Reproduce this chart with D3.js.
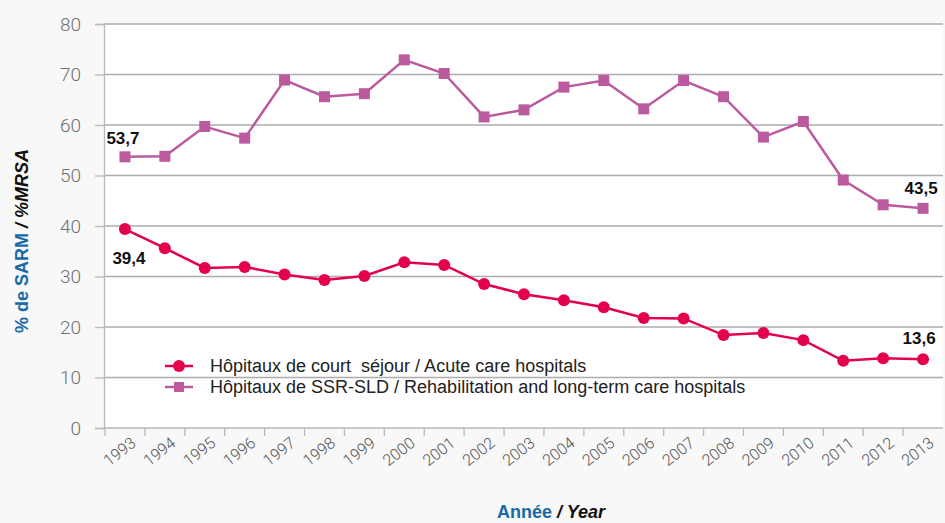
<!DOCTYPE html>
<html>
<head>
<meta charset="utf-8">
<script src="https://cdn.jsdelivr.net/npm/d3@7"></script>
<style>
  html, body { margin: 0; padding: 0; background: #f8f8f8; }
  svg { display: block; }
</style>
</head>
<body>
<div id="chart"></div>
<script>
// Années
const years = ['1993', '1994', '1995', '1996', '1997', '1998', '1999', '2000', '2001', '2002', '2003',
  '2004', '2005', '2006', '2007', '2008', '2009', '2010', '2011', '2012', '2013']

// Court séjour / Acute care
const acute = [39.4, 35.6, 31.7, 31.9, 30.4, 29.3, 30.1, 32.8, 32.3, 28.5, 26.5,
  25.3, 23.9, 21.8, 21.7, 18.4, 18.8, 17.4, 13.3, 13.8, 13.6]

// SSR-SLD / Rehabilitation and long-term care
const longTerm = [53.7, 53.8, 59.7, 57.4, 68.9, 65.6, 66.2, 72.9, 70.2, 61.6, 63.0,
  67.5, 68.8, 63.2, 68.8, 65.6, 57.6, 60.7, 49.1, 44.2, 43.5]

const yTicks = [0, 10, 20, 30, 40, 50, 60, 70, 80]

const seriesNames = [
  'Hôpitaux de court  séjour / Acute care hospitals',
  'Hôpitaux de SSR-SLD / Rehabilitation and long-term care hospitals'
]

const width = 945
const height = 523
const margin = { top: 24, right: 2, bottom: 95, left: 104 }
const colors = {
  acute: '#e4004f',
  longTerm: '#bb5a9e',
  grid: '#acacac',
  axis: '#b9b9b9',
  tick: '#707070',
  xtick: '#555',
  blue: '#1769a8'
}

const svg = d3.select('#chart')
  .append('svg')
  .attr('width', width)
  .attr('height', height)

const x = d3.scaleBand()
  .domain(years)
  .range([margin.left + 1, width - margin.right])

const y = d3.scaleLinear()
  .domain([0, 80])
  .range([height - margin.bottom, margin.top])

// Zone de tracé
svg.append('rect')
  .attr('x', margin.left)
  .attr('y', margin.top)
  .attr('width', width - margin.right - margin.left)
  .attr('height', y(0) - margin.top)
  .attr('fill', '#fff')

// Grille
svg.append('g')
  .selectAll('line')
  .data(yTicks.filter(d => d > 0))
  .enter()
  .append('line')
  .attr('x1', margin.left)
  .attr('x2', width - margin.right)
  .attr('y1', d => y(d))
  .attr('y2', d => y(d))
  .attr('stroke', colors.grid)
  .attr('stroke-width', 1.3)

// Axe Y
const yAxis = svg.append('g')
  .attr('transform', `translate(${margin.left},0)`)
  .call(d3.axisLeft(y).tickValues(yTicks).tickSize(9).tickPadding(14))
yAxis.select('.domain').attr('stroke', colors.axis).attr('stroke-width', 1.3)
yAxis.selectAll('.tick line').attr('stroke', colors.axis).attr('stroke-width', 1.3)
yAxis.selectAll('.tick text')
  .attr('fill', colors.tick)
  .style('font-family', 'Roboto, sans-serif')
  .style('font-weight', 300)
  .style('font-size', '19px')

// Axe X (ticks entre les années)
const xAxisG = svg.append('g')
  .attr('transform', `translate(0,${y(0)})`)
xAxisG.append('line')
  .attr('x1', margin.left)
  .attr('x2', width - margin.right)
  .attr('stroke', colors.axis)
  .attr('stroke-width', 1.3)
xAxisG.selectAll('.xtick')
  .data(years)
  .enter()
  .append('line')
  .attr('class', 'xtick')
  .attr('x1', d => x(d))
  .attr('x2', d => x(d))
  .attr('y1', 0)
  .attr('y2', 8)
  .attr('stroke', colors.axis)
  .attr('stroke-width', 1.3)
xAxisG.selectAll('.xlabel')
  .data(years)
  .enter()
  .append('text')
  .attr('class', 'xlabel')
  .attr('transform', d => `translate(${x(d) + x.bandwidth() / 2 + 12},${17}) rotate(-38)`)
  .attr('text-anchor', 'end')
  .attr('fill', colors.xtick)
  .style('font-family', 'Roboto, sans-serif')
  .style('font-weight', 300)
  .style('font-size', '16px')
  .text(d => d)

const cx = d => x(d) + x.bandwidth() / 2

function drawSeries(values, color, shape) {
  const pts = years.map((yr, i) => ({ yr, v: values[i] }))
  const line = d3.line()
    .x(d => cx(d.yr))
    .y(d => y(d.v))
  svg.append('path')
    .datum(pts)
    .attr('fill', 'none')
    .attr('stroke', color)
    .attr('stroke-width', 2.5)
    .attr('d', line)
  if (shape === 'circle') {
    svg.selectAll(null)
      .data(pts)
      .enter()
      .append('circle')
      .attr('cx', d => cx(d.yr))
      .attr('cy', d => y(d.v))
      .attr('r', 6)
      .attr('fill', color)
  } else {
    svg.selectAll(null)
      .data(pts)
      .enter()
      .append('rect')
      .attr('x', d => cx(d.yr) - 5.5)
      .attr('y', d => y(d.v) - 5.5)
      .attr('width', 11)
      .attr('height', 11)
      .attr('fill', color)
  }
}

drawSeries(longTerm, colors.longTerm, 'square')
drawSeries(acute, colors.acute, 'circle')

// Étiquettes de valeurs
const first = years[0]
const last = years[years.length - 1]
const valueLabels = [
  { yr: first, v: longTerm[0], dx: -2, dy: -13 },
  { yr: first, v: acute[0], dx: 4, dy: 35 },
  { yr: last, v: longTerm[longTerm.length - 1], dx: -2, dy: -14 },
  { yr: last, v: acute[acute.length - 1], dx: -4, dy: -15 }
]
svg.selectAll('.vlabel')
  .data(valueLabels)
  .enter()
  .append('text')
  .attr('class', 'vlabel')
  .attr('x', d => cx(d.yr) + d.dx)
  .attr('y', d => y(d.v) + d.dy)
  .attr('text-anchor', 'middle')
  .attr('fill', '#111')
  .style('font-family', 'Liberation Sans, Arial, sans-serif')
  .style('font-weight', 'bold')
  .style('font-size', '17px')
  .text(d => d.v.toFixed(1).replace('.', ','))

// Légende
const legend = svg.append('g').attr('transform', 'translate(165,366)')
const legendItems = [
  { name: seriesNames[0], color: colors.acute, shape: 'circle' },
  { name: seriesNames[1], color: colors.longTerm, shape: 'square' }
]
legendItems.forEach((item, i) => {
  const g = legend.append('g').attr('transform', `translate(0,${i * 21})`)
  g.append('line')
    .attr('x1', 0).attr('x2', 28)
    .attr('stroke', item.color)
    .attr('stroke-width', 2.5)
  if (item.shape === 'circle') {
    g.append('circle').attr('cx', 14).attr('r', 6).attr('fill', item.color)
  } else {
    g.append('rect').attr('x', 9).attr('y', -5).attr('width', 10).attr('height', 10).attr('fill', item.color)
  }
  g.append('text')
    .attr('x', 45)
    .attr('y', 6)
    .attr('fill', '#222')
    .style('font-family', 'Liberation Sans, Arial, sans-serif')
    .style('font-size', '18px')
    .style('white-space', 'pre')
    .text(item.name)
})

// Titre de l'axe Y
const yTitle = svg.append('text')
  .attr('transform', `translate(28,${(margin.top + y(0)) / 2 + 15}) rotate(-90)`)
  .attr('text-anchor', 'middle')
  .style('font-family', 'Liberation Sans, Arial, sans-serif')
  .style('font-weight', 'bold')
  .style('font-size', '18px')
yTitle.append('tspan').attr('fill', colors.blue).text('% de SARM ')
yTitle.append('tspan').attr('fill', '#111').style('font-style', 'italic').text('/ %MRSA')

// Titre de l'axe X
const xTitle = svg.append('text')
  .attr('x', 551)
  .attr('y', 518)
  .attr('text-anchor', 'middle')
  .style('font-family', 'Liberation Sans, Arial, sans-serif')
  .style('font-weight', 'bold')
  .style('font-size', '18px')
xTitle.append('tspan').attr('fill', colors.blue).text('Année ')
xTitle.append('tspan').attr('fill', '#111').style('font-style', 'italic').text('/ Year')
</script>
</body>
</html>
